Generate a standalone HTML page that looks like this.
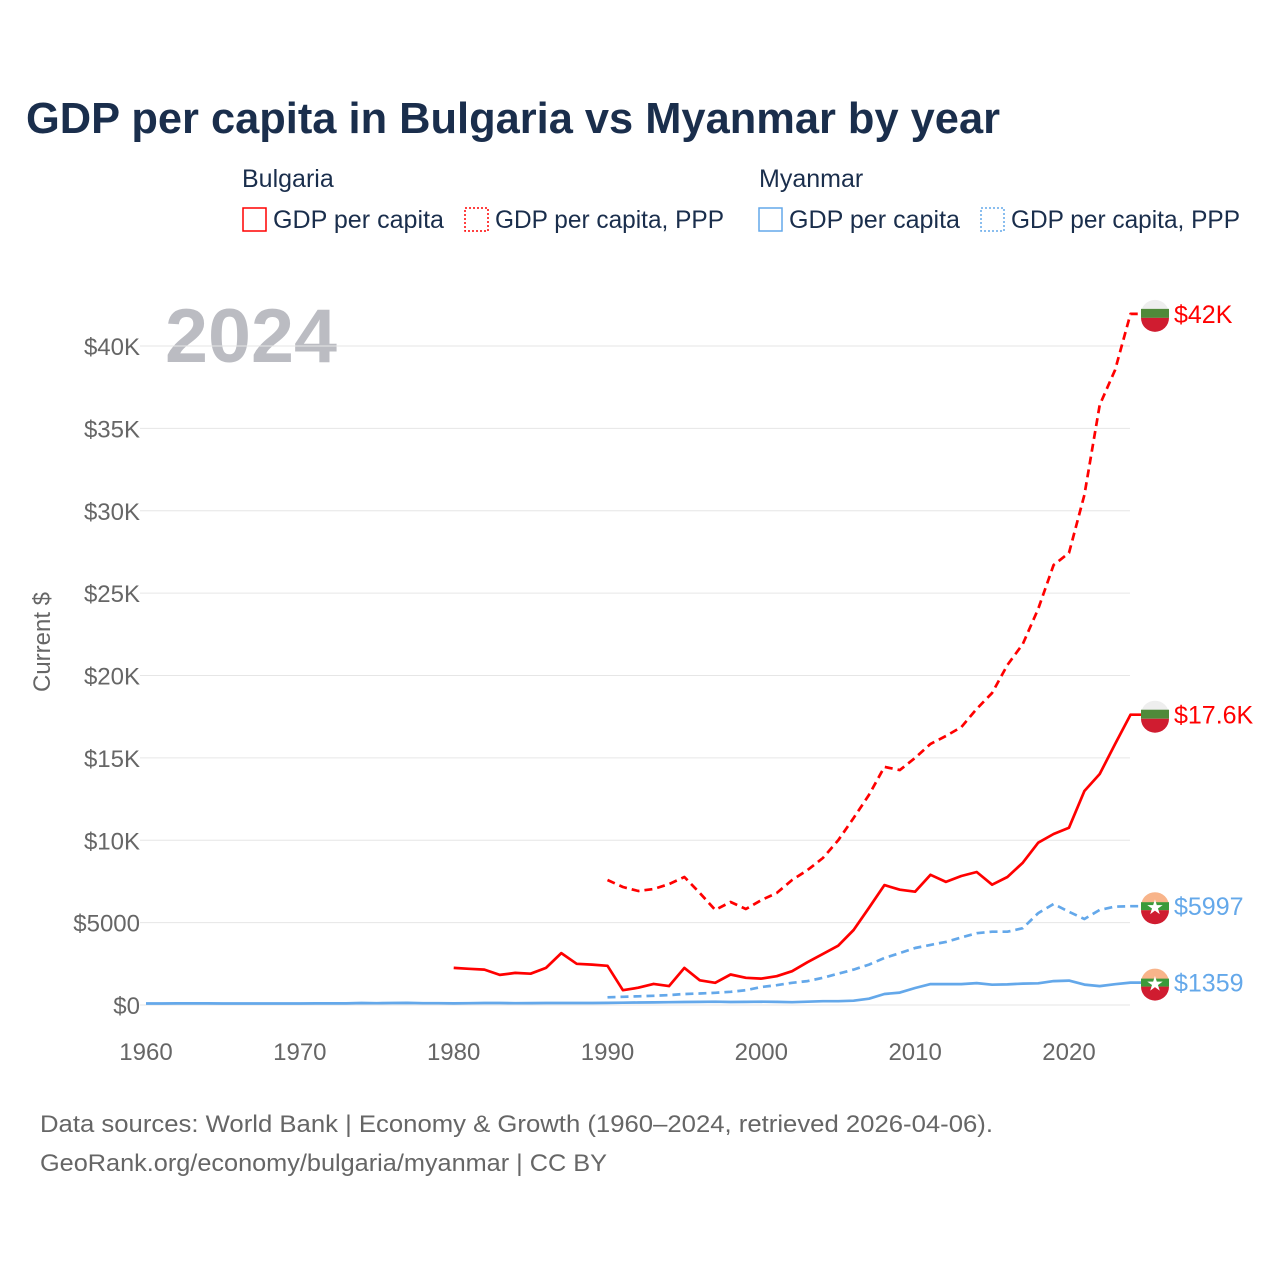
<!DOCTYPE html>
<html><head><meta charset="utf-8"><style>
body{margin:0;background:#fff;font-family:"Liberation Sans",sans-serif;}
svg text{font-family:"Liberation Sans",sans-serif;}
</style></head><body>
<svg id="c" width="1280" height="1280" viewBox="0 0 1280 1280">
<text x="26" y="133" font-size="44" font-weight="bold" fill="#1a2e4c" textLength="974" lengthAdjust="spacingAndGlyphs">GDP per capita in Bulgaria vs Myanmar by year</text>
<g font-size="25" fill="#1a2e4c">
<text x="242" y="187">Bulgaria</text>
<text x="759" y="187">Myanmar</text>
<g><rect x="243" y="208" width="23" height="23" fill="none" stroke="#ff0000" stroke-width="1.5"/><text x="273" y="228" textLength="171" lengthAdjust="spacingAndGlyphs">GDP per capita</text></g>
<g><rect x="465" y="208" width="23" height="23" fill="none" stroke="#ff0000" stroke-width="1.5" stroke-dasharray="2 2"/><text x="495" y="228" textLength="229" lengthAdjust="spacingAndGlyphs">GDP per capita, PPP</text></g>
<g><rect x="759" y="208" width="23" height="23" fill="none" stroke="#64a8ea" stroke-width="1.5"/><text x="789" y="228" textLength="171" lengthAdjust="spacingAndGlyphs">GDP per capita</text></g>
<g><rect x="981" y="208" width="23" height="23" fill="none" stroke="#64a8ea" stroke-width="1.5" stroke-dasharray="2 2"/><text x="1011" y="228" textLength="229" lengthAdjust="spacingAndGlyphs">GDP per capita, PPP</text></g>
</g>
<text x="165" y="362" font-size="76" font-weight="bold" fill="#bbbcc2" textLength="172" lengthAdjust="spacingAndGlyphs">2024</text>
<text transform="translate(50,642) rotate(-90)" text-anchor="middle" font-size="24" fill="#666">Current $</text>
<g id="grid"></g><g id="series"></g><g id="labels"></g>
<text x="40" y="1132" font-size="24" fill="#666" textLength="953" lengthAdjust="spacingAndGlyphs">Data sources: World Bank | Economy &amp; Growth (1960–2024, retrieved 2026-04-06).</text>
<text x="40" y="1171" font-size="24" fill="#666" textLength="567" lengthAdjust="spacingAndGlyphs">GeoRank.org/economy/bulgaria/myanmar | CC BY</text>
</svg>
<script>
const yTicks=[0,5000,10000,15000,20000,25000,30000,35000,40000];
const yTickLabels=["$0","$5000","$10K","$15K","$20K","$25K","$30K","$35K","$40K"];
const xTicks=[1960,1970,1980,1990,2000,2010,2020];
const bgGdpStart=1980;
const bgGdp=[2250,2200,2150,1830,1950,1900,2250,3150,2500,2450,2380,900,1050,1280,1150,2250,1500,1350,1850,1650,1600,1750,2050,2600,3100,3600,4550,5900,7280,7000,6880,7900,7470,7830,8070,7300,7770,8640,9850,10380,10760,12990,14020,15840,17620];
const bgPppStart=1990;
const bgPpp=[7590,7160,6920,7040,7340,7770,6800,5770,6250,5830,6370,6800,7590,8190,8920,10000,11350,12750,14450,14260,15000,15850,16330,16870,17970,18940,20640,21910,24040,26710,27440,30960,36420,38550,41950];
const mmGdpStart=1960;
const mmGdp=[90,90,95,95,95,90,90,90,90,90,90,95,95,100,120,110,120,130,110,110,100,110,120,120,110,115,120,120,120,120,130,140,150,160,170,180,190,200,180,190,200,190,170,200,230,230,260,380,670,750,1030,1270,1270,1270,1330,1230,1250,1300,1320,1450,1480,1240,1150,1260,1359];
const mmPppStart=1990;
const mmPpp=[470,500,530,560,600,670,700,740,800,900,1090,1200,1350,1450,1650,1900,2150,2450,2850,3150,3460,3650,3830,4100,4360,4450,4450,4660,5580,6130,5660,5220,5770,5970,5997];
const endLabels=["$42K","$17.6K","$5997","$1359"];

const X=y=>146+(y-1960)*15.383, Y=v=>1005-v*659/40000;
const NS="http://www.w3.org/2000/svg";
function mk(t,a,p){const e=document.createElementNS(NS,t);for(const k in a)e.setAttribute(k,a[k]);p.appendChild(e);return e;}
const grid=document.getElementById('grid'),ser=document.getElementById('series'),lab=document.getElementById('labels');
yTicks.forEach((v,i)=>{
 const l=mk('line',{x1:140,x2:1130,y1:Y(v),y2:Y(v),stroke:'#e6e6e6','stroke-width':1},grid);
 
 
 const t=mk('text',{x:140,y:Y(v)+9,'text-anchor':'end','font-size':24,fill:'#666'},grid);t.textContent=yTickLabels[i];
 
 
});
xTicks.forEach(y=>{
 const t=mk('text',{x:X(y),y:1060,'text-anchor':'middle','font-size':24,fill:'#666'},grid);t.textContent=y;
 
 
});
function line(start,vals,color,dash,name){
 const pts=vals.map((v,i)=>X(start+i).toFixed(1)+','+Y(v).toFixed(1));
 const last=vals[vals.length-1];pts.push('1142,'+Y(last).toFixed(1));
 const p=mk('polyline',{points:pts.join(' '),fill:'none',stroke:color,'stroke-width':2.7,'stroke-dasharray':dash,'stroke-linejoin':'round'},ser);
 
 
}
line(mmGdpStart,mmGdp,'#64a8ea','none','myanmar-gdp-line');
line(mmPppStart,mmPpp,'#64a8ea','8 5','myanmar-ppp-line');
line(bgGdpStart,bgGdp,'#ff0000','none','bulgaria-gdp-line');
line(bgPppStart,bgPpp,'#ff0000','8 5','bulgaria-ppp-line');
const ends=[[bgPpp[bgPpp.length-1],'#ff0000','bg'],[bgGdp[bgGdp.length-1],'#ff0000','bg'],[mmPpp[mmPpp.length-1],'#64a8ea','mm'],[mmGdp[mmGdp.length-1],'#64a8ea','mm']];
ends.forEach((e,i)=>{
 const cy=Y(e[0]),g=mk('g',{},lab);
 
 
 if(e[2]=='bg'){mk('circle',{cx:1155,cy:cy,r:14,fill:'#eee'},g);mk('rect',{x:1141,y:cy-5,width:28,height:9,fill:'#4f8a3a'},g);mk('path',{d:`M1141 ${cy+4} H1169 A14 14 0 0 1 1141 ${cy+4}Z`,fill:'#d01c30'},g);}
 else{mk('circle',{cx:1155,cy:cy,r:14,fill:'#f8b48a'},g);mk('rect',{x:1141,y:cy-4,width:28,height:8,fill:'#3a9a3a'},g);mk('path',{d:`M1141 ${cy+4} H1169 A14 14 0 0 1 1141 ${cy+4}Z`,fill:'#d01c30'},g);mk('text',{x:1155,y:cy+8,'text-anchor':'middle','font-size':20,fill:'#fff'},g).textContent='★';}
 const t=mk('text',{x:1174,y:cy+9,'font-size':25,fill:e[1]},lab);t.textContent=endLabels[i];
 
 
});
</script>
</body></html>
